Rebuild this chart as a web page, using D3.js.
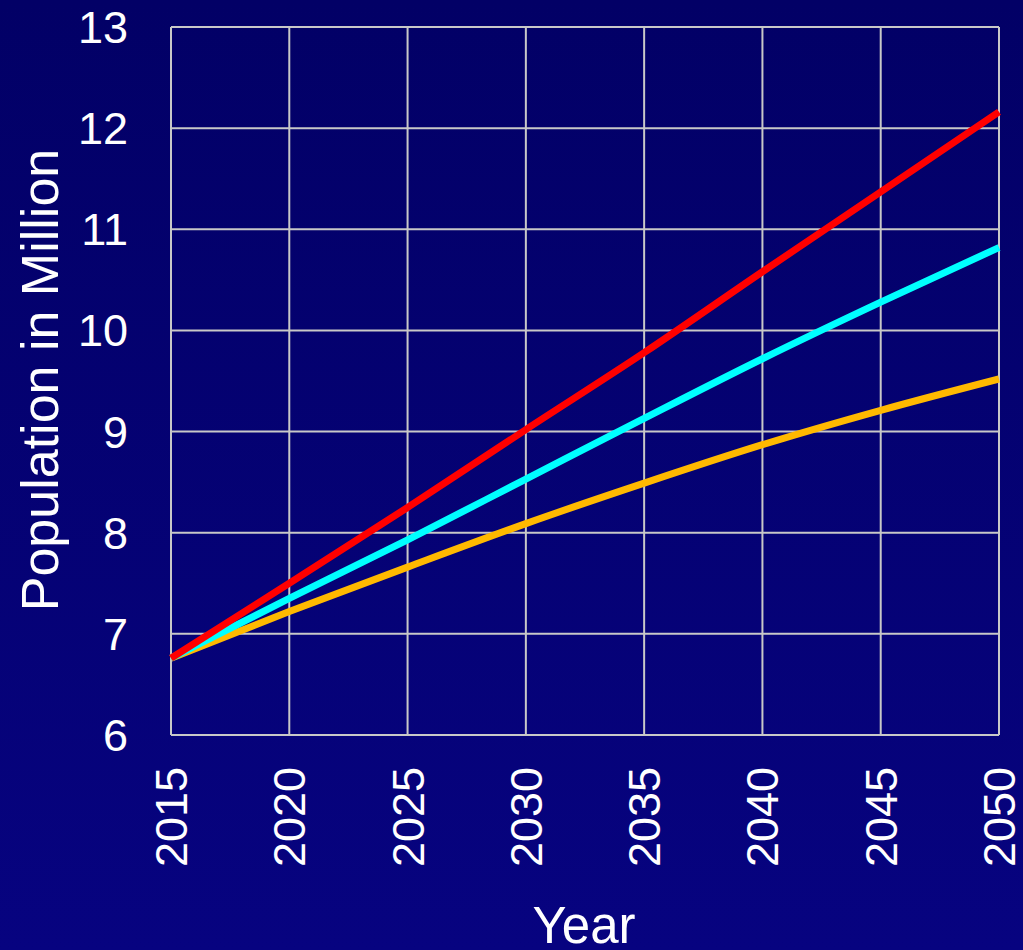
<!DOCTYPE html>
<html>
<head>
<meta charset="utf-8">
<script src="https://cdn.jsdelivr.net/npm/d3@7"></script>
<style>
  html, body { margin: 0; padding: 0; background: #05027a; }
  svg { display: block; }
  text { font-family: "Liberation Sans", Arial, sans-serif; fill: #fff; }
</style>
</head>
<body>
<script>
// data
var years = [2015, 2020, 2025, 2030, 2035, 2040, 2045, 2050];
var redSeries = [6.76, 7.50, 8.25, 9.02, 9.78, 10.58, 11.37, 12.16];
var cyanSeries = [6.76, 7.35, 7.93, 8.53, 9.13, 9.72, 10.28, 10.82];
var orangeSeries = [6.76, 7.22, 7.66, 8.09, 8.49, 8.87, 9.21, 9.52];
var yTicks = [6, 7, 8, 9, 10, 11, 12, 13];
var xTicks = [2015, 2020, 2025, 2030, 2035, 2040, 2045, 2050];

var width = 1023, height = 950;
var plotLeft = 171, plotRight = 999, plotTop = 27, plotBottom = 735;

var svg = d3.select('body').append('svg')
    .attr('width', width).attr('height', height);

var defs = svg.append('defs');
var grad = defs.append('linearGradient').attr('id', 'bg')
    .attr('x1', 0).attr('y1', 0).attr('x2', 0).attr('y2', 1);
grad.append('stop').attr('offset', '0%').attr('stop-color', '#020066');
grad.append('stop').attr('offset', '100%').attr('stop-color', '#070380');

svg.append('rect').attr('width', width).attr('height', height).attr('fill', 'url(#bg)');

var x = d3.scaleLinear().domain([2015, 2050]).range([plotLeft, plotRight]);
var y = d3.scaleLinear().domain([6, 13]).range([plotBottom, plotTop]);

// grid
var grid = svg.append('g');
grid.selectAll('.hl').data(yTicks).enter().append('line')
    .attr('x1', plotLeft).attr('x2', plotRight)
    .attr('y1', function(d) { return y(d); }).attr('y2', function(d) { return y(d); })
    .attr('stroke', '#c8c8c8').attr('stroke-width', 2);
grid.selectAll('.vl').data(xTicks).enter().append('line')
    .attr('y1', plotTop).attr('y2', plotBottom)
    .attr('x1', function(d) { return x(d); }).attr('x2', function(d) { return x(d); })
    .attr('stroke', '#c8c8c8').attr('stroke-width', 2);

// tick labels
svg.selectAll('.yl').data(yTicks).enter().append('text')
    .attr('x', 128).attr('y', function(d) { return y(d) + 16; })
    .attr('text-anchor', 'end').attr('font-size', 45)
    .text(function(d) { return d; });

svg.selectAll('.xl').data(xTicks).enter().append('text')
    .attr('transform', function(d) { return 'translate(' + (x(d) + 16) + ',767) rotate(-90)'; })
    .attr('text-anchor', 'end').attr('font-size', 45)
    .text(function(d) { return d; });

// axis titles
svg.append('text')
    .attr('transform', 'translate(58,380) rotate(-90)')
    .attr('text-anchor', 'middle').attr('font-size', 52)
    .text('Population in Million');
svg.append('text')
    .attr('x', 584).attr('y', 943)
    .attr('text-anchor', 'middle').attr('font-size', 51)
    .text('Year');

// series
var line = d3.line()
    .x(function(d, i) { return x(years[i]); })
    .y(function(d) { return y(d); })
    .curve(d3.curveMonotoneX);

var series = [
  {vals: orangeSeries, color: '#ffb900'},
  {vals: cyanSeries, color: '#00ffff'},
  {vals: redSeries, color: '#ff0000'}
];
svg.selectAll('.series').data(series).enter().append('path')
    .attr('d', function(d) { return line(d.vals); })
    .attr('fill', 'none')
    .attr('stroke', function(d) { return d.color; })
    .attr('stroke-width', 7);
</script>
</body>
</html>
